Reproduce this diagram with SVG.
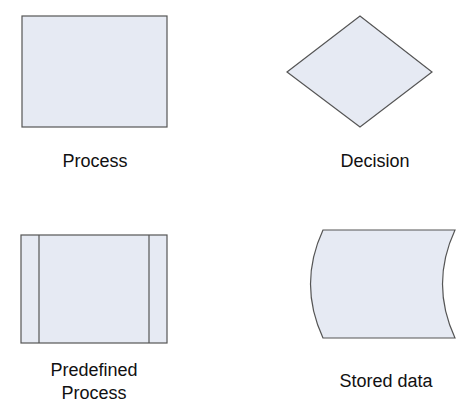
<svg xmlns="http://www.w3.org/2000/svg" width="474" height="403" viewBox="0 0 474 403">
<style>
.s{fill:#e6eaf3;stroke:#555;stroke-width:1.2}
.l{stroke:#555;stroke-width:1.2;fill:none}
text{font-family:"Liberation Sans",Arial,sans-serif;font-size:18px;fill:#111;text-anchor:middle}
</style>
<rect width="474" height="403" fill="#fff"/>
<g id="process"><rect class="s" x="22" y="16" width="145" height="111"/><text x="95" y="167">Process</text></g>
<g id="decision"><polygon class="s" points="287,72 360,16 432,72 360,127"/><text x="375" y="167">Decision</text></g>
<g id="predefined"><rect class="s" x="21" y="235" width="146" height="108"/><line class="l" x1="39" y1="235" x2="39" y2="343"/><line class="l" x1="149" y1="235" x2="149" y2="343"/><text x="94" y="376">Predefined</text><text x="94" y="399">Process</text></g>
<g id="stored"><path class="s" d="M323,230 L455,230 Q430,284 455,338 L323,338 Q298,284 323,230 Z"/><text x="386" y="387">Stored data</text></g>
<g id="connectors"/>
</svg>
